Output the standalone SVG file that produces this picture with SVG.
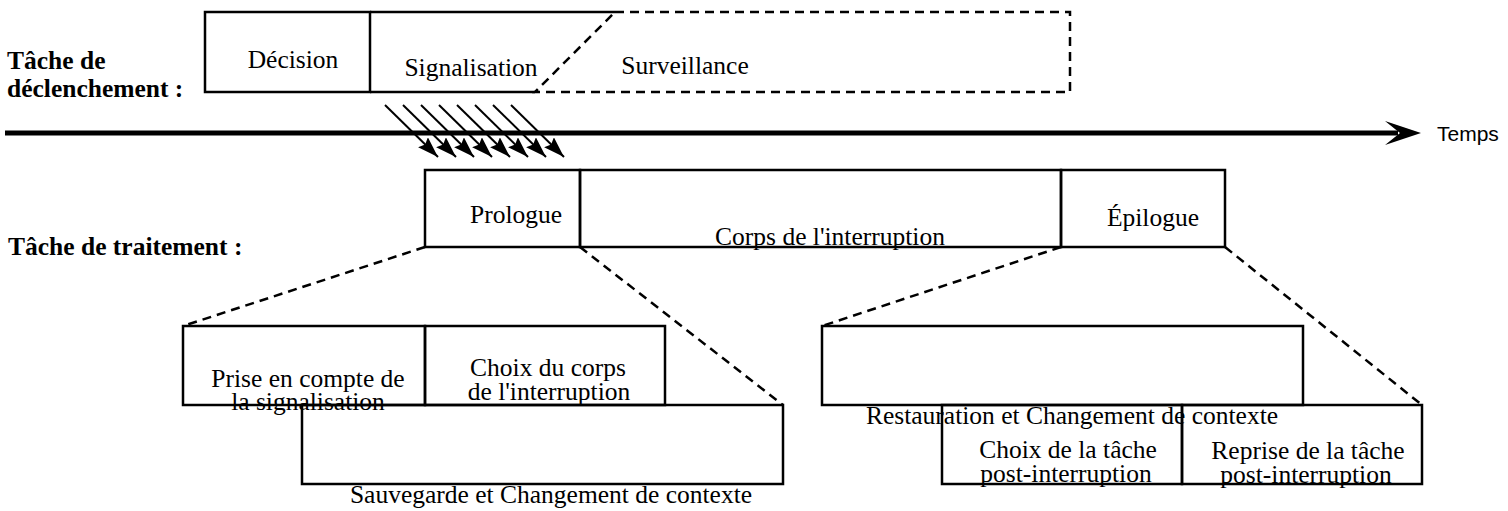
<svg xmlns="http://www.w3.org/2000/svg" width="1508" height="511" viewBox="0 0 1508 511">
  <style>
    .box { fill: none; stroke: #000; stroke-width: 2.5; }
    .dash { fill: none; stroke: #000; stroke-width: 2.5; stroke-dasharray: 9 6; }
    .lbl { font-family: "Liberation Serif", "Times New Roman", serif; font-size: 25.5px; fill: #000; text-anchor: middle; }
    .head { font-family: "Liberation Serif", "Times New Roman", serif; font-size: 25.5px; font-weight: bold; fill: #000; }
    .sig { stroke: #000; stroke-width: 2; marker-end: url(#tip); }
  </style>
  <defs>
    <marker id="tip" markerUnits="userSpaceOnUse" markerWidth="24" markerHeight="16" refX="21" refY="7" orient="auto">
      <path d="M0,0 L21,7 L0,14 L3,7 Z" fill="#000"/>
    </marker>
  </defs>

  <rect width="1508" height="511" fill="#fff"/>

  <!-- row labels -->
  <g id="label-declenchement">
    <text class="head" x="7" y="69">Tâche de</text>
    <text class="head" x="7" y="97">déclenchement :</text>
  </g>
  <g id="label-traitement">
    <text class="head" x="8" y="255">Tâche de traitement :</text>
  </g>

  <!-- triggering task -->
  <g id="decision">
    <rect class="box" x="205" y="12" width="165" height="80"/>
    <text class="lbl" x="293" y="68">Décision</text>
  </g>
  <g id="signalisation">
    <path class="box" d="M370,12 H615 M370,92 H535"/>
    <text class="lbl" x="471" y="76">Signalisation</text>
  </g>
  <g id="surveillance">
    <path class="dash" d="M615,12 H1070 V92 H535 L615,12"/>
    <text class="lbl" x="685" y="74">Surveillance</text>
  </g>

  <!-- time axis -->
  <g id="temps">
    <line x1="5" y1="133" x2="1398" y2="133" stroke="#000" stroke-width="5"/>
    <path d="M1421,133 L1385,121 L1400,133 L1385,145 Z" fill="#000"/>
    <text x="1437" y="141" font-family="Liberation Sans, Arial, sans-serif" font-size="21">Temps</text>
  </g>

  <!-- handling task -->
  <g id="prologue">
    <rect class="box" x="425" y="170" width="155" height="77"/>
    <text class="lbl" x="516" y="223">Prologue</text>
  </g>
  <g id="corps">
    <rect class="box" x="580" y="170" width="481" height="77"/>
    <text class="lbl" x="830" y="245">Corps de l'interruption</text>
  </g>
  <g id="epilogue">
    <rect class="box" x="1061" y="170" width="164" height="77"/>
    <text class="lbl" x="1153" y="226">Épilogue</text>
  </g>

  <!-- prologue detail -->
  <g id="prise-en-compte">
    <text class="lbl" x="308" y="387">Prise en compte de</text>
    <text class="lbl" x="308" y="410">la signalisation</text>
    <rect class="box" x="183" y="326" width="242" height="79"/>
  </g>
  <g id="choix-corps">
    <text class="lbl" x="548" y="376">Choix du corps</text>
    <text class="lbl" x="549" y="400">de l'interruption</text>
    <rect class="box" x="425" y="326" width="240" height="79"/>
  </g>
  <g id="sauvegarde">
    <rect class="box" x="302" y="405" width="481" height="79"/>
    <text class="lbl" x="551" y="503">Sauvegarde et Changement de contexte</text>
  </g>

  <!-- epilogue detail -->
  <g id="restauration">
    <text class="lbl" x="1072" y="424">Restauration et Changement de contexte</text>
    <rect class="box" x="822" y="326" width="481" height="79"/>
  </g>
  <g id="choix-tache">
    <text class="lbl" x="1068" y="458">Choix de la tâche</text>
    <text class="lbl" x="1066" y="482">post-interruption</text>
    <rect class="box" x="942" y="405" width="240" height="79"/>
  </g>
  <g id="reprise-tache">
    <text class="lbl" x="1308" y="459">Reprise de la tâche</text>
    <text class="lbl" x="1306" y="483">post-interruption</text>
    <rect class="box" x="1182" y="405" width="240" height="79"/>
  </g>

  <!-- connectors: interrupt signals and zoom-in guides -->
  <g id="connectors">
    <line class="sig" x1="385" y1="105" x2="438" y2="157"/>
    <line class="sig" x1="403" y1="105" x2="456" y2="157"/>
    <line class="sig" x1="421" y1="105" x2="474" y2="157"/>
    <line class="sig" x1="439" y1="105" x2="492" y2="157"/>
    <line class="sig" x1="457" y1="105" x2="510" y2="157"/>
    <line class="sig" x1="475" y1="105" x2="528" y2="157"/>
    <line class="sig" x1="493" y1="105" x2="546" y2="157"/>
    <line class="sig" x1="511" y1="105" x2="564" y2="157"/>
    <line class="dash" x1="425" y1="247" x2="183" y2="326"/>
    <line class="dash" x1="580" y1="247" x2="783" y2="405"/>
    <line class="dash" x1="1061" y1="247" x2="822" y2="326"/>
    <line class="dash" x1="1225" y1="247" x2="1422" y2="405"/>
  </g>
</svg>
